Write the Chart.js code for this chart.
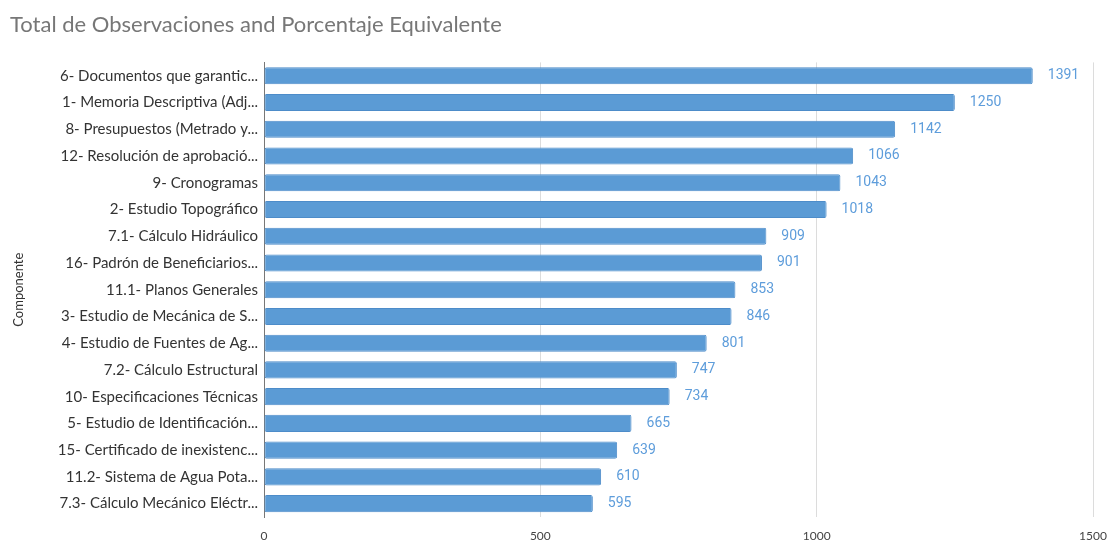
<!DOCTYPE html>
<html>
<head>
    <title>Total de Observaciones</title>
    <script src="https://cdn.jsdelivr.net/npm/chart.js"></script>
    <style>
        body {
            margin: 0;
            background-color: #ffffff;
        }
        .chart-container {
            width: 1110px;
            height: 543px;
        }
    </style>
</head>
<body>
    <div class="chart-container">
        <canvas id="chart1"></canvas>
    </div>

    <script>
        // Data
        const componentes = [
            '6- Documentos que garantic...',
            '1- Memoria Descriptiva (Adj...',
            '8- Presupuestos (Metrado y...',
            '12- Resolución de aprobació...',
            '9- Cronogramas',
            '2- Estudio Topográfico',
            '7.1- Cálculo Hidráulico',
            '16- Padrón de Beneficiarios...',
            '11.1- Planos Generales',
            '3- Estudio de Mecánica de S...',
            '4- Estudio de Fuentes de Ag...',
            '7.2- Cálculo Estructural',
            '10- Especificaciones Técnicas',
            '5- Estudio de Identificación...',
            '15- Certificado de inexistenc...',
            '11.2- Sistema de Agua Pota...',
            '7.3- Cálculo Mecánico Eléctr...'
        ];
        const observaciones = [1391, 1250, 1142, 1066, 1043, 1018, 909, 901, 853, 846, 801, 747, 734, 665, 639, 610, 595];
        const xTicks = [0, 500, 1000, 1500];

        // Value labels to the right of each bar
        const valueLabels = {
            id: 'valueLabels',
            afterDatasetsDraw(chart) {
                const ctx = chart.ctx;
                const meta = chart.getDatasetMeta(0);
                ctx.save();
                ctx.font = '14px Roboto, sans-serif';
                ctx.fillStyle = '#5e9ddb';
                ctx.textAlign = 'left';
                ctx.textBaseline = 'middle';
                meta.data.forEach((bar, i) => {
                    ctx.fillText(String(chart.data.datasets[0].data[i]), bar.x + 15, bar.y);
                });
                ctx.restore();
            }
        };

        const ctx1 = document.getElementById('chart1').getContext('2d');
        const chart1 = new Chart(ctx1, {
            type: 'bar',
            data: {
                labels: componentes,
                datasets: [{
                    label: 'Total de Observaciones',
                    data: observaciones,
                    backgroundColor: '#5b9bd5',
                    borderColor: '#4d8cc9',
                    borderWidth: 1,
                    borderRadius: 2,
                    borderSkipped: false,
                    barPercentage: 0.64,
                    categoryPercentage: 1.0
                }]
            },
            options: {
                indexAxis: 'y',
                responsive: true,
                maintainAspectRatio: false,
                animation: false,
                layout: {
                    padding: { left: 10, right: 0, top: 0, bottom: 0 }
                },
                scales: {
                    x: {
                        min: 0,
                        max: 1500,
                        afterBuildTicks: (scale) => {
                            scale.ticks = xTicks.map(v => ({ value: v }));
                        },
                        grid: { color: '#dcdcdc', drawTicks: false },
                        border: { display: false },
                        ticks: {
                            padding: 12,
                            color: '#444',
                            font: { family: 'Lato, sans-serif', size: 12 },
                            callback: (v) => String(v)
                        },
                        afterFit: (scale) => {
                            scale.height = 26;
                            scale.paddingRight = 17;
                        }
                    },
                    y: {
                        grid: { display: false, drawTicks: false },
                        border: { display: true, color: '#777', width: 1 },
                        ticks: {
                            padding: 6,
                            color: '#333',
                            autoSkip: false,
                            font: { family: 'Lato, sans-serif', size: 15 }
                        },
                        title: {
                            display: true,
                            text: 'Componente',
                            color: '#333',
                            padding: 1,
                            font: { family: 'Lato, sans-serif', size: 13 }
                        },
                        afterFit: (scale) => { scale.width = 254; }
                    }
                },
                plugins: {
                    legend: { display: false },
                    tooltip: { enabled: false },
                    title: {
                        display: true,
                        text: 'Total de Observaciones and Porcentaje Equivalente',
                        align: 'start',
                        color: '#777',
                        font: { family: 'Lato, sans-serif', size: 22, weight: 'normal' },
                        padding: { top: 12, bottom: 24 }
                    }
                }
            },
            plugins: [valueLabels]
        });
    </script>
</body>
</html>
